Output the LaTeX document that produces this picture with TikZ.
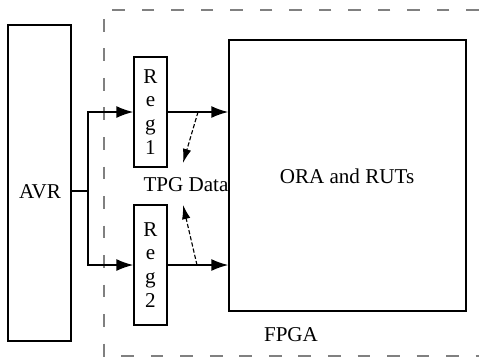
\documentclass[tikz,border=0pt]{standalone}
\usepackage{fontspec}
\setmainfont{Liberation Serif}
\usetikzlibrary{arrows.meta,positioning,calc}

\tikzset{
  lbl/.style={font=\fontsize{15}{17}\selectfont, inner sep=0pt},
  blk/.style={draw, line width=1.1pt, inner sep=0pt},
  regbox/.style={blk, minimum width=0.825cm, align=center,
    font=\fontsize{15}{17}\selectfont},
  flow/.style={line width=1pt, -{Latex[length=12pt,width=8.5pt]}},
  tap/.style={line width=0.8pt, dash pattern=on 3pt off 1.5pt, -{Latex[length=10pt,width=6pt]}}
}

\begin{document}
\begin{tikzpicture}[x=0.025cm,y=-0.025cm]
\useasboundingbox (0,0) rectangle (479,358);

% FPGA region
\draw[gray, line width=1.1pt, dash pattern=on 9pt off 12pt] (479,10) -- (104,10) -- (104,356) -- (479,356);

% blocks
\node[blk, minimum width=1.575cm, minimum height=7.9cm] (avr) at (39.5,183) {};
\node[lbl] (avrtxt) at (40,192) {AVR};
\node[regbox, minimum height=2.75cm] (regone) at (150.5,112) {R\\e\\g\\1};
\node[regbox, minimum height=3cm] (regtwo) at (150.5,265) {R\\e\\g\\2};
\node[blk, minimum width=5.925cm, minimum height=6.775cm] (ora) at (347.5,175.5) {};
\node[lbl] (oratxt) at (347,176) {ORA and RUTs};
\node[lbl] (tpg) at (186,185) {TPG Data};
\node[lbl] (fpga) at (291,335) {FPGA};

% wiring
\coordinate (split) at (88,191);
\draw[line width=1pt] (split -| avr.east) -- (split);
\draw[flow] (split) |- (regone.west);
\draw[flow] (split) |- (regtwo.west);
\draw[flow] (regone.east) -- (regone.east -| ora.west);
\draw[flow] (regtwo.east) -- (regtwo.east -| ora.west);

% test pattern taps
\coordinate (tapone) at (198,112);
\coordinate (taptwo) at (197,265);
\coordinate (endone) at (183,163);
\coordinate (endtwo) at (183,205);
\draw[tap] (tapone) -- (endone);
\draw[tap] (taptwo) -- (endtwo);
\end{tikzpicture}
\end{document}
